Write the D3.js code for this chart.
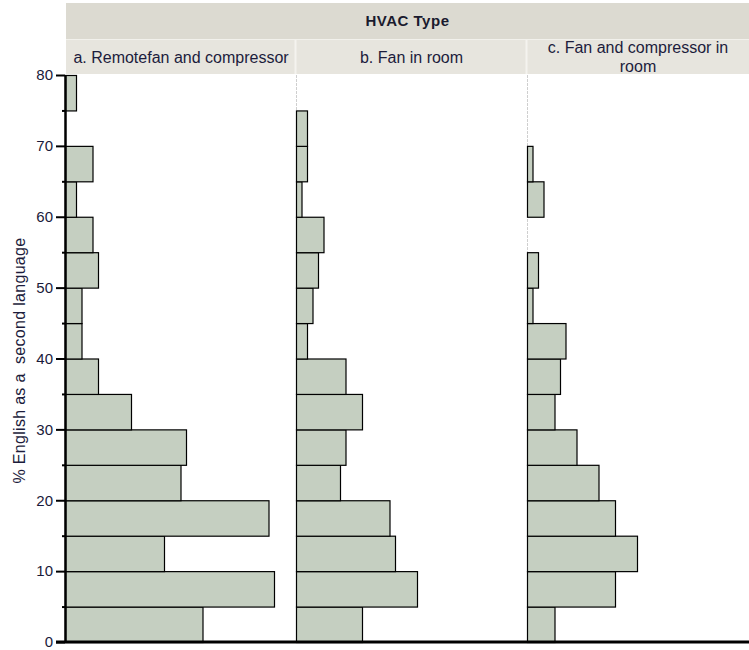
<!DOCTYPE html>
<html>
<head>
<meta charset="utf-8">
<script src="https://cdn.jsdelivr.net/npm/d3@7"></script>
<style>
  html, body { margin: 0; padding: 0; background: #fff; }
  svg { display: block; font-family: "Liberation Sans", Arial, sans-serif; }
</style>
</head>
<body>
<svg id="chart" width="749" height="650"></svg>
<script>
// ---- data ----
const binStarts = [0, 5, 10, 15, 20, 25, 30, 35, 40, 45, 50, 55, 60, 65, 70, 75];
const panelLabels = [
  ["a. Remotefan and compressor"],
  ["b. Fan in room"],
  ["c. Fan and compressor in", "room"]
];
const countsA = [25, 38, 18, 37, 21, 22, 12, 6, 3, 3, 6, 5, 2, 5, 0, 2];
const countsB = [12, 22, 18, 17, 8, 9, 12, 9, 2, 3, 4, 5, 1, 2, 2, 0];
const countsC = [5, 16, 20, 16, 13, 9, 5, 6, 7, 1, 2, 0, 3, 1, 0, 0];
const yTickValues = [0, 10, 20, 30, 40, 50, 60, 70, 80];
const yMinorValues = [5, 15, 25, 35, 45, 55, 65, 75];
const headerTitle = "HVAC Type";
const yTitle = "% English as a  second language";
const binWidth = 5;

// ---- layout ----
const svg = d3.select("#chart");
const axisX = 65;
const panelW = 231;
const panelLefts = [65, 296, 527];
const headerTop = 3, headerMid = 40, headerBottom = 75;
const y = d3.scaleLinear().domain([0, 80]).range([642, 75]);
const x = d3.scaleLinear().domain([0, 42]).range([0, panelW]);
const series = [countsA, countsB, countsC];

// header
svg.append("rect").attr("x", 66).attr("y", headerTop).attr("width", 749 - 66).attr("height", headerMid - headerTop)
  .attr("fill", "#dcdad1");
svg.append("rect").attr("x", 66).attr("y", headerMid).attr("width", 749 - 66).attr("height", headerBottom - headerMid - 1)
  .attr("fill", "#e7e5de");
svg.append("line").attr("x1", 66).attr("x2", 749).attr("y1", headerMid - 0.5).attr("y2", headerMid - 0.5)
  .attr("stroke", "#f2f1ec").attr("stroke-width", 1);
[296, 527].forEach(px => {
  svg.append("line").attr("x1", px - 0.5).attr("x2", px - 0.5).attr("y1", headerMid).attr("y2", headerBottom - 1)
    .attr("stroke", "#f4f3ef").attr("stroke-width", 2);
});
svg.append("text").attr("x", (66 + 749) / 2).attr("y", 26).attr("text-anchor", "middle")
  .attr("font-size", 15).attr("font-weight", "bold").attr("letter-spacing", 0.5)
  .attr("fill", "#1a1a2e").text(headerTitle);

panelLabels.forEach((lines, i) => {
  const left = i === 0 ? 66 : panelLefts[i];
  const right = i === 2 ? 749 : panelLefts[i] + panelW;
  const cx = (left + right) / 2;
  const startY = lines.length === 1 ? 63 : 53;
  lines.forEach((t, j) => {
    svg.append("text").attr("x", cx).attr("y", startY + j * 19).attr("text-anchor", "middle")
      .attr("font-size", 16).attr("fill", "#1c1c3c").text(t);
  });
});

// panel dividers (light gray)
[296, 527].forEach(px => {
  svg.append("line").attr("x1", px + 0.5).attr("x2", px + 0.5).attr("y1", headerBottom).attr("y2", y(0))
    .attr("stroke", "#cfcfcf").attr("stroke-width", 1).attr("stroke-dasharray", "3,1");
});

// bars
series.forEach((counts, i) => {
  const g = svg.append("g").attr("transform", `translate(${panelLefts[i]},0)`);
  const data = binStarts.map((b, k) => ({ b, v: counts[k] })).filter(d => d.v > 0);
  g.selectAll("rect").data(data).enter().append("rect")
    .attr("x", 0.5)
    .attr("y", d => y(d.b + binWidth) + 0.5)
    .attr("width", d => x(d.v))
    .attr("height", d => y(d.b) - y(d.b + binWidth))
    .attr("fill", "#c5cfc1")
    .attr("stroke", "#000")
    .attr("stroke-width", 1.2);
});

// y axis
const yAxisMajor = d3.axisLeft(y).tickValues(yTickValues).tickSize(9).tickPadding(3).tickFormat(d3.format("d"));
const yAxisMinor = d3.axisLeft(y).tickValues(yMinorValues).tickSize(3).tickFormat("");
const gMinor = svg.append("g").attr("transform", `translate(${axisX},0)`).call(yAxisMinor);
const gMajor = svg.append("g").attr("transform", `translate(${axisX},0)`).call(yAxisMajor);
[gMinor, gMajor].forEach(g => {
  g.select(".domain").attr("stroke", "#000").attr("stroke-width", 2).attr("d", `M0.5,${y(80)}V${y(0)}`);
  g.selectAll(".tick line").attr("stroke", "#000").attr("stroke-width", 2);
  g.selectAll(".tick text").attr("font-size", 15).attr("fill", "#1a1a3a")
    .attr("font-family", "'Liberation Sans', Arial, sans-serif");
});

// x baseline
svg.append("line").attr("x1", 56).attr("x2", 749).attr("y1", y(0)).attr("y2", y(0))
  .attr("stroke", "#000").attr("stroke-width", 3);

// y title
svg.append("text").attr("transform", `translate(25,${(y(0) + y(80)) / 2 + 2}) rotate(-90)`)
  .attr("text-anchor", "middle").attr("font-size", 16).attr("letter-spacing", 0.3).attr("fill", "#1c1c3c")
  .style("white-space", "pre").attr("xml:space", "preserve").text(yTitle);
</script>
</body>
</html>
